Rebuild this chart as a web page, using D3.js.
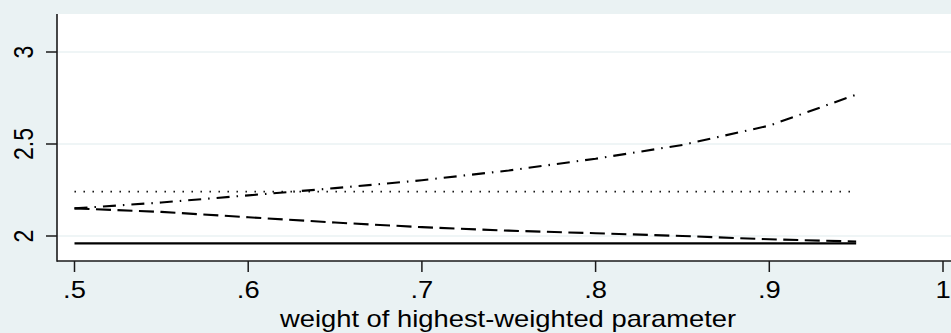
<!DOCTYPE html>
<html>
<head>
<meta charset="utf-8">
<script src="https://cdn.jsdelivr.net/npm/d3@7"></script>
<style>
  html, body { margin: 0; padding: 0; background: #EAF2F3; }
  svg { display: block; }
  text { font-family: "Liberation Sans", Arial, Helvetica, sans-serif; fill: #000; }
</style>
</head>
<body>
<svg id="chart" width="951" height="333"></svg>
<script>
// ---- data ----
const weights      = [0.50, 0.55, 0.60, 0.65, 0.70, 0.75, 0.80, 0.85, 0.90, 0.95];
const solidSeries  = [1.960, 1.960, 1.960, 1.960, 1.960, 1.960, 1.960, 1.960, 1.960, 1.960];
const dottedSeries = [2.241, 2.241, 2.241, 2.241, 2.241, 2.241, 2.241, 2.241, 2.241, 2.241];
const dashedSeries = [2.150, 2.131, 2.102, 2.073, 2.048, 2.029, 2.015, 2.000, 1.982, 1.970];
const dashDotSeries= [2.150, 2.182, 2.221, 2.260, 2.303, 2.356, 2.420, 2.495, 2.600, 2.768];
const xTicks = [0.5, 0.6, 0.7, 0.8, 0.9, 1.0];
const xTickLabels = [".5", ".6", ".7", ".8", ".9", "1"];
const yTicks = [2, 2.5, 3];
const yTickLabels = ["2", "2.5", "3"];
const xAxisTitle = "weight of highest-weighted parameter";

// ---- layout ----
const svg = d3.select("#chart");
const W = 951, H = 333;
const plotLeft = 57, plotRight = 960, plotTop = 14, plotBottom = 261;
const stretch = 1.19;
const fontSize = 23;

const x = d3.scaleLinear().domain([0.5, 1.0]).range([74.5, 943]);
const y = d3.scaleLinear().domain([2, 3]).range([236, 52]);

svg.append("rect").attr("x", 0).attr("y", 0).attr("width", W).attr("height", H).attr("fill", "#EAF2F3");
svg.append("rect").attr("x", plotLeft).attr("y", plotTop)
  .attr("width", plotRight - plotLeft).attr("height", plotBottom - plotTop).attr("fill", "#ffffff");

// gridlines
svg.append("g").selectAll("line").data(yTicks).join("line")
  .attr("x1", plotLeft).attr("x2", plotRight)
  .attr("y1", d => y(d)).attr("y2", d => y(d))
  .attr("stroke", "#EAF2F3").attr("stroke-width", 1.6);

// series
const line = d3.line().x(d => x(d[0])).y(d => y(d[1]));
const series = [
  { values: solidSeries,   dash: null },
  { values: dottedSeries,  dash: "1.4,7.6", width: 1.8 },
  { values: dashedSeries,  dash: "15,6.5" },
  { values: dashDotSeries, dash: "13,7,1.5,7" }
];
series.forEach(s => {
  svg.append("path")
    .datum(weights.map((w, i) => [w, s.values[i]]))
    .attr("d", line)
    .attr("fill", "none")
    .attr("stroke", "#000")
    .attr("stroke-width", s.width || 2.1)
    .attr("stroke-dasharray", s.dash);
});

// axes lines
svg.append("line").attr("x1", plotLeft).attr("x2", plotLeft).attr("y1", plotTop).attr("y2", plotBottom + 0.75)
  .attr("stroke", "#1a1a1a").attr("stroke-width", 1.6);
svg.append("line").attr("x1", plotLeft).attr("x2", W).attr("y1", plotBottom).attr("y2", plotBottom)
  .attr("stroke", "#1a1a1a").attr("stroke-width", 1.6);

// y ticks
svg.append("g").selectAll("line").data(yTicks).join("line")
  .attr("x1", 46).attr("x2", plotLeft)
  .attr("y1", d => y(d)).attr("y2", d => y(d))
  .attr("stroke", "#1a1a1a").attr("stroke-width", 1.5);
svg.append("g").selectAll("text").data(yTicks).join("text")
  .attr("transform", d => `translate(33,${y(d)}) scale(${stretch},1) rotate(-90)`)
  .attr("text-anchor", "middle")
  .attr("font-size", fontSize)
  .text((d, i) => yTickLabels[i]);

// x ticks
svg.append("g").selectAll("line").data(xTicks).join("line")
  .attr("x1", d => x(d)).attr("x2", d => x(d))
  .attr("y1", plotBottom).attr("y2", 272)
  .attr("stroke", "#1a1a1a").attr("stroke-width", 1.5);
svg.append("g").selectAll("text").data(xTicks).join("text")
  .attr("transform", d => `translate(${x(d)},298) scale(${stretch},1)`)
  .attr("text-anchor", "middle")
  .attr("font-size", fontSize)
  .text((d, i) => xTickLabels[i]);

// x axis title
svg.append("text")
  .attr("transform", `translate(508,327) scale(${stretch},1)`)
  .attr("text-anchor", "middle")
  .attr("font-size", fontSize)
  .text(xAxisTitle);
</script>
</body>
</html>
